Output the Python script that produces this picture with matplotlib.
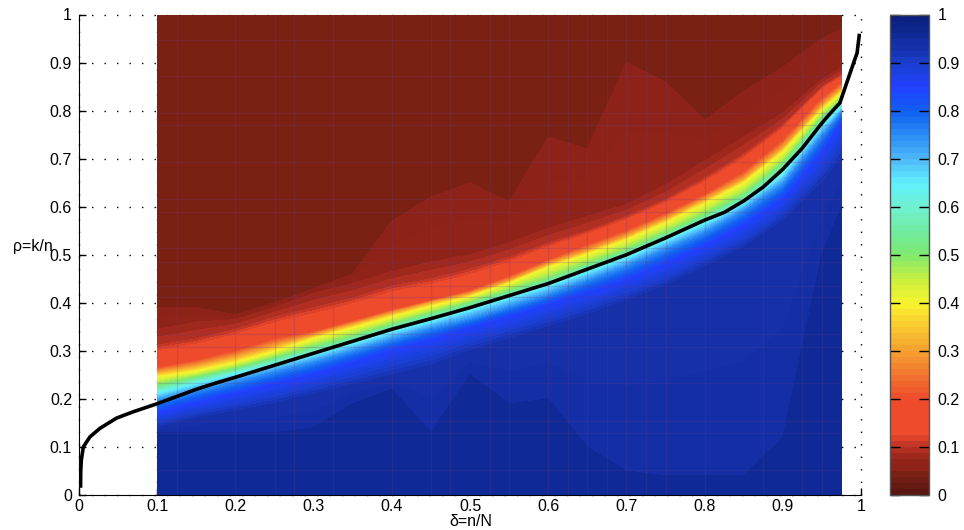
import numpy as np
import matplotlib
matplotlib.use('Agg')
import matplotlib.pyplot as plt
from matplotlib.colors import LinearSegmentedColormap

plt.rcParams['font.family'] = ['Liberation Sans', 'DejaVu Sans']

# success probability: for each delta column, the rho where P hits a level
delta = [.1, .15, .2, .25, .3, .35, .4, .45, .5, .55, .6, .65, .7, .75, .8, .85, .9, .95, .975]
p_levels = [.96, .95, .925, .85, .75, .65, .5, .4, .3, .2, .1, .075, .05, .04]
rho_p96 = [0] * 19
rho_p95 = [.13, .13, .13, .13, .14, .19, .22, .13, .25, .19, .2, .1, .05, .04, .04, .04, .12, .5, .6]
rho_p925 = [.14, .16, .175, .19, .21, .23, .25, .27, .30, .325, .35, .375, .405, .435, .475, .515, .57, .65, .70]
rho_p85 = [.17, .192, .21, .23, .25, .275, .3, .322, .347, .37, .395, .42, .447, .48, .518, .56, .615, .71, .775]
rho_p75 = [.195, .215, .235, .255, .275, .298, .322, .345, .365, .39, .415, .445, .475, .51, .545, .59, .645, .745, .795]
rho_p65 = [.21, .23, .25, .27, .29, .313, .338, .36, .383, .408, .433, .462, .492, .527, .563, .605, .665, .765, .805]
rho_p5 = [.228, .245, .263, .285, .308, .33, .355, .378, .4, .425, .45, .48, .51, .545, .583, .625, .69, .785, .822]
rho_p4 = [.245, .257, .275, .298, .325, .347, .37, .392, .412, .44, .473, .5, .53, .565, .605, .648, .712, .80, .836]
rho_p3 = [.255, .268, .287, .31, .332, .355, .378, .40, .418, .445, .48, .508, .538, .574, .614, .657, .722, .81, .845]
rho_p2 = [.265, .28, .3, .325, .34, .362, .385, .405, .425, .455, .489, .52, .55, .585, .625, .672, .738, .825, .857]
rho_p1 = [.312, .325, .345, .37, .39, .41, .435, .45, .47, .495, .525, .55, .58, .615, .66, .71, .77, .85, .875]
rho_p075 = [.345, .36, .365, .39, .42, .44, .465, .485, .50, .525, .555, .58, .605, .645, .695, .745, .795, .865, .89]
rho_p05 = [.39, .39, .375, .40, .43, .46, .57, .62, .65, .61, .745, .72, .90, .86, .78, .84, .89, .95, .97]
rho_p04 = [1] * 19

# the black curve
curve_delta = [.002, .0022, .003, .0055, .014, .027, .048, .069, .1, .125, .15, .175, .2, .25, .3, .35, .4, .45, .5, .55,
               .6, .65, .7, .75, .8, .825, .85, .875, .9, .925, .95, .96, .973, .986, .995, .998]
curve_rho = [.015, .05, .073, .1, .121, .139, .16, .173, .19, .205, .22, .233, .245, .27, .295, .32, .345, .367, .39, .415,
             .44, .47, .5, .535, .572, .588, .612, .641, .678, .722, .774, .793, .816, .878, .92, .96]

# faint seams in the filled field
seam_delta = [.125, .2, .25, .275, .325, .4, .45, .475, .525, .55, .6, .625, .65, .675, .7, .725, .75, .8, .875, .925, .95]
seam_rho = [.052, .129, .154, .233, .308, .335, .412, .435, .485, .514, .589, .616, .693, .77, .795, .872, .947]

ticks = [0, .1, .2, .3, .4, .5, .6, .7, .8, .9, 1]
tick_labels = ['0', '0.1', '0.2', '0.3', '0.4', '0.5', '0.6', '0.7', '0.8', '0.9', '1']

cmap = LinearSegmentedColormap.from_list('jetish', [
    (0, '#551610'), (.0437, '#7b2114'), (.0563, '#8f2318'), (.0688, '#8f2318'), (.1, '#b83224'), (.125, '#ee4a2c'),
    (.2, '#ee4a2c'), (.25, '#f2762f'), (.3, '#f5a030'), (.35, '#f9c830'), (.4, '#f8f52f'),
    (.45, '#c8f040'), (.5, '#7fe870'), (.55, '#70eca0'), (.6, '#70f0d0'), (.65, '#60f0ff'),
    (.7, '#4fb8f8'), (.75, '#2a8cf5'), (.8, '#1060f0'), (.85, '#2040ff'), (.9, '#1a3fd0'),
    (.9312, '#1530a8'), (.9437, '#1530a8'), (.9563, '#0f2a96'), (1, '#0a1f7a')], N=512)

W, H = 964, 530
fig = plt.figure(figsize=(W / 100, H / 100), dpi=100)
ax = fig.add_axes([79 / W, 35 / H, 782 / W, 480.5 / H])
cax = fig.add_axes([890 / W, 35 / H, 39 / W, 480.5 / H])

rows = [rho_p96, rho_p95, rho_p925, rho_p85, rho_p75, rho_p65, rho_p5, rho_p4,
        rho_p3, rho_p2, rho_p1, rho_p075, rho_p05, rho_p04]
Y = np.array(rows)
X = np.tile(delta, (len(rows), 1))
Z = np.tile(np.array(p_levels).reshape(-1, 1), (1, len(delta)))

cf = ax.contourf(X, Y, Z, levels=np.linspace(0, 1, 81), cmap=cmap, vmin=0, vmax=1, antialiased=False, zorder=1)

ax.vlines(seam_delta, 0, 1, color='#6a3a8a', alpha=.22, lw=.9, zorder=1.5)
ax.hlines(seam_rho, .1, .975, color='#6a3a8a', alpha=.22, lw=.9, zorder=1.5)

ax.plot(curve_delta, curve_rho, color='k', lw=2.6, zorder=3, solid_capstyle='butt')

ax.set_xlim(0, 1)
ax.set_ylim(0, 1)
ax.set_xticks(ticks)
ax.set_xticklabels(tick_labels)
ax.set_yticks(ticks)
ax.set_yticklabels(tick_labels)
ax.tick_params(direction='in', length=5, width=1, labelsize=11.5, pad=5)
ax.tick_params(axis='x', pad=3)
ax.set_axisbelow(True)
ax.grid(True, color='k', ls=(0, (1, 8)), lw=1)
for g in ax.get_xgridlines() + ax.get_ygridlines():
    g.set_clip_on(False)
ax.spines['top'].set_visible(False)
ax.spines['right'].set_visible(False)

cb = fig.colorbar(cf, cax=cax, ticks=ticks)
cb.ax.set_yticklabels(tick_labels)
cb.ax.tick_params(direction='in', length=7, width=1, labelsize=11.5, left=True, right=True, pad=6)
cb.outline.set_edgecolor('#555555')
cb.outline.set_linewidth(1)

fig.text(13 / W, 1 - 247 / H, 'ρ=k/n', fontsize=11.5, ha='left', va='center')
fig.text(471 / W, 1 - 529.5 / H, 'δ=n/N', fontsize=11.5, ha='center', va='bottom')

fig.savefig('out.png', dpi=100)
